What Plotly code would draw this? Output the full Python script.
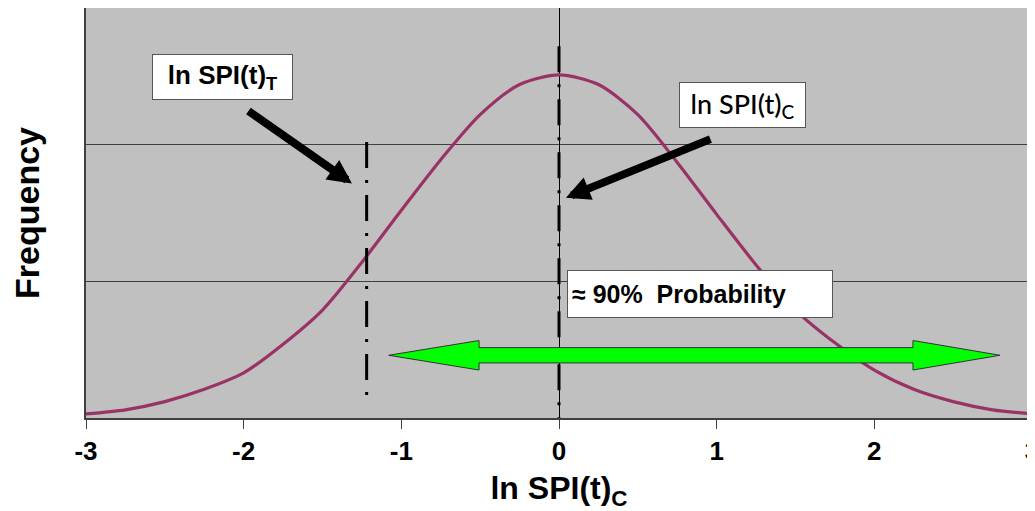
import plotly.graph_objects as go

# ---- data ----
ln_spi = [-3.0, -2.75, -2.5, -2.25, -2.0, -1.75, -1.5, -1.25, -1.0, -0.75, -0.5, -0.25, 0.0,
          0.25, 0.5, 0.75, 1.0, 1.25, 1.5, 1.75, 2.0, 2.25, 2.5, 2.75, 3.0]
frequency = [0.03, 0.06, 0.12, 0.21, 0.33, 0.54, 0.79, 1.14, 1.52, 1.89, 2.22, 2.44, 2.51,
             2.44, 2.22, 1.87, 1.49, 1.12, 0.79, 0.55, 0.35, 0.21, 0.12, 0.06, 0.03]

x_tick_vals = [-3, -2, -1, 0, 1, 2, 3]
x_tick_text = ["-3", "-2", "-1", "0", "1", "2", "3"]

# marker lines (ln SPI(t)_T and ln SPI(t)_C)
spi_t_x = [-1.22, -1.22]
spi_t_y = [2.02, 0.14]
spi_c_x = [0.0, 0.0]
spi_c_y = [2.72, 0.0]

# 90% probability double arrow (data units)
arr_left, arr_right = -1.08, 2.797
arr_y = 0.459
arr_head_len_l, arr_head_len_r = 0.573, 0.552
arr_shaft_half, arr_head_half = 0.056, 0.108

FONT = "Liberation Sans, Arial, sans-serif"
DASHDOT = "26px,12px,3px,12px"

fig = go.Figure()

fig.add_trace(go.Scatter(
    x=ln_spi, y=frequency, mode="lines",
    line=dict(color="#993366", width=3.2, shape="spline", smoothing=0.8),
    hoverinfo="skip", showlegend=False))

fig.add_trace(go.Scatter(
    x=spi_t_x, y=spi_t_y, mode="lines",
    line=dict(color="black", width=3, dash=DASHDOT),
    hoverinfo="skip", showlegend=False))

fig.add_trace(go.Scatter(
    x=spi_c_x, y=spi_c_y, mode="lines",
    line=dict(color="black", width=3, dash=DASHDOT),
    hoverinfo="skip", showlegend=False))

# green double arrow
lb = arr_left + arr_head_len_l
rb = arr_right - arr_head_len_r
pts = [
    (arr_left, arr_y),
    (lb, arr_y + arr_head_half),
    (lb, arr_y + arr_shaft_half),
    (rb, arr_y + arr_shaft_half),
    (rb, arr_y + arr_head_half),
    (arr_right, arr_y),
    (rb, arr_y - arr_head_half),
    (rb, arr_y - arr_shaft_half),
    (lb, arr_y - arr_shaft_half),
    (lb, arr_y - arr_head_half),
]
path = "M " + " L ".join(f"{px},{py}" for px, py in pts) + " Z"
fig.add_shape(type="path", path=path, xref="x", yref="y",
              fillcolor="#00FF00", line=dict(color="#333333", width=1), layer="above")

annotations = [
    # black arrows
    dict(x=-1.313, y=1.716, ax=-1.979, ay=2.254, xref="x", yref="y", axref="x", ayref="y",
         text="", showarrow=True, arrowhead=2, arrowsize=0.6, arrowwidth=8, arrowcolor="black"),
    dict(x=0.044, y=1.612, ax=0.970, ay=2.045, xref="x", yref="y", axref="x", ayref="y",
         text="", showarrow=True, arrowhead=2, arrowsize=0.6, arrowwidth=8, arrowcolor="black"),
    # label boxes
    dict(x=-2.134, y=2.493, xref="x", yref="y", showarrow=False,
         text="ln SPI(t)<sub>T</sub>", font=dict(family=FONT, size=26, color="black", weight="bold"),
         bgcolor="white", bordercolor="#555555", borderwidth=1, borderpad=4,
         width=131, height=36, align="center"),
    dict(x=1.164, y=2.291, xref="x", yref="y", showarrow=False,
         text="ln SPI(t)<sub>C</sub>", font=dict(family="Lato, Carlito, sans-serif", size=27, color="black", weight=500),
         bgcolor="white", bordercolor="#555555", borderwidth=1, borderpad=4,
         width=117, height=36, align="center"),
    dict(x=0.894, y=0.910, xref="x", yref="y", showarrow=False,
         text="\u2248 90%\u00a0\u00a0Probability", font=dict(family=FONT, size=25, color="black", weight="bold"),
         bgcolor="white", bordercolor="#555555", borderwidth=1, borderpad=4,
         width=256, height=38, align="left"),
]

# the page body has an 8px margin, so the figure is sized/offset to compensate
fig.update_layout(
    width=1027, height=503,
    margin=dict(l=78, r=3, t=0, b=93, autoexpand=False),
    paper_bgcolor="white",
    plot_bgcolor="#C0C0C0",
    showlegend=False,
    annotations=annotations,
    xaxis=dict(
        range=[-3, 3], tickvals=x_tick_vals, ticktext=x_tick_text, automargin=False,
        ticks="outside", ticklen=9, tickwidth=1, tickcolor="#404040",
        ticklabeloverflow="allow",
        tickfont=dict(family=FONT, size=26, color="black", weight="bold"),
        showgrid=False, zeroline=True, zerolinecolor="black", zerolinewidth=1,
        showline=True, linecolor="#404040", linewidth=1.5, mirror=True,
        title=dict(text="ln SPI(t)<sub>C</sub>", font=dict(family=FONT, size=32, color="black", weight="bold"),
                   standoff=22),
    ),
    yaxis=dict(
        range=[0, 3], tickvals=[0, 1, 2, 3], showticklabels=False, ticks="", automargin=False,
        showgrid=True, gridcolor="#404040", gridwidth=1, zeroline=False,
        showline=True, linecolor="#404040", linewidth=1.5, mirror=True,
        title=dict(text="Frequency", font=dict(family=FONT, size=34, color="black", weight="bold"),
                   standoff=36),
    ),
)

fig.write_html("out.html")
